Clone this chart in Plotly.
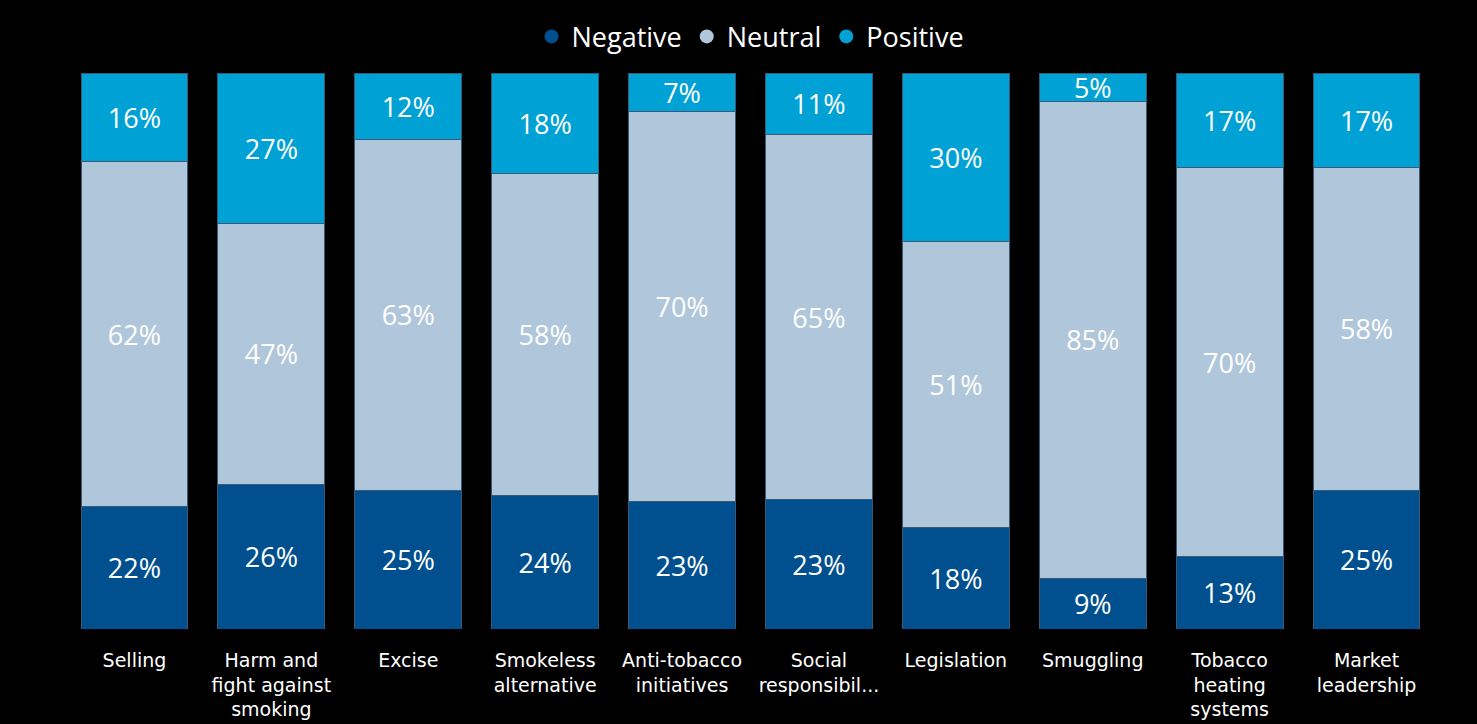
import plotly.graph_objects as go

categories = ["Selling", "Harm and<br>fight against<br>smoking", "Excise", "Smokeless<br>alternative",
              "Anti-tobacco<br>initiatives", "Social<br>responsibil...", "Legislation", "Smuggling",
              "Tobacco<br>heating<br>systems", "Market<br>leadership"]
negative = [22, 26, 25, 24, 23, 23, 18, 9, 13, 25]
neutral = [62, 47, 63, 58, 70, 65, 51, 85, 70, 58]
positive = [16, 27, 12, 18, 7, 11, 30, 5, 17, 17]

series = [("Negative", negative, "#00508F"),
          ("Neutral", neutral, "#B0C6DA"),
          ("Positive", positive, "#00A1D4")]

fig = go.Figure()
for name, vals, col in series:
    fig.add_trace(go.Bar(
        x=categories, y=vals, name=name, showlegend=False,
        marker=dict(color=col, line=dict(color="#3a5a78", width=1)),
        text=[f"{v}%" for v in vals], textposition="inside", insidetextanchor="middle",
        textfont=dict(family="Open Sans", size=27, color="white"),
        hoverinfo="skip",
    ))
for name, vals, col in series:
    fig.add_trace(go.Scatter(
        x=[None], y=[None], mode="markers", name=name,
        marker=dict(symbol="circle", size=14, color=col),
    ))

fig.update_layout(
    barmode="stack", barnorm="percent", bargap=0.22,
    paper_bgcolor="black", plot_bgcolor="black",
    width=1477, height=724,
    margin=dict(l=66, r=42, t=73, b=95, autoexpand=False),
    uniformtext=dict(minsize=27, mode="show"),
    legend=dict(orientation="h", x=0.5, xanchor="center", y=1.065, yanchor="middle",
                traceorder="normal",
                font=dict(family="Open Sans", size=27, color="white"),
                itemwidth=30, tracegroupgap=0, bgcolor="rgba(0,0,0,0)"),
)
fig.update_xaxes(showgrid=False, showline=False, zeroline=False, automargin=False,
                 ticks="outside", ticklen=14, tickcolor="black",
                 tickfont=dict(family="DejaVu Sans", size=19, color="white"))
fig.update_yaxes(visible=False, range=[0, 100], showgrid=False, automargin=False)

fig.write_html("out.html", config={"displayModeBar": False},
               post_script="document.body.style.margin='0';document.body.style.background='black';")
